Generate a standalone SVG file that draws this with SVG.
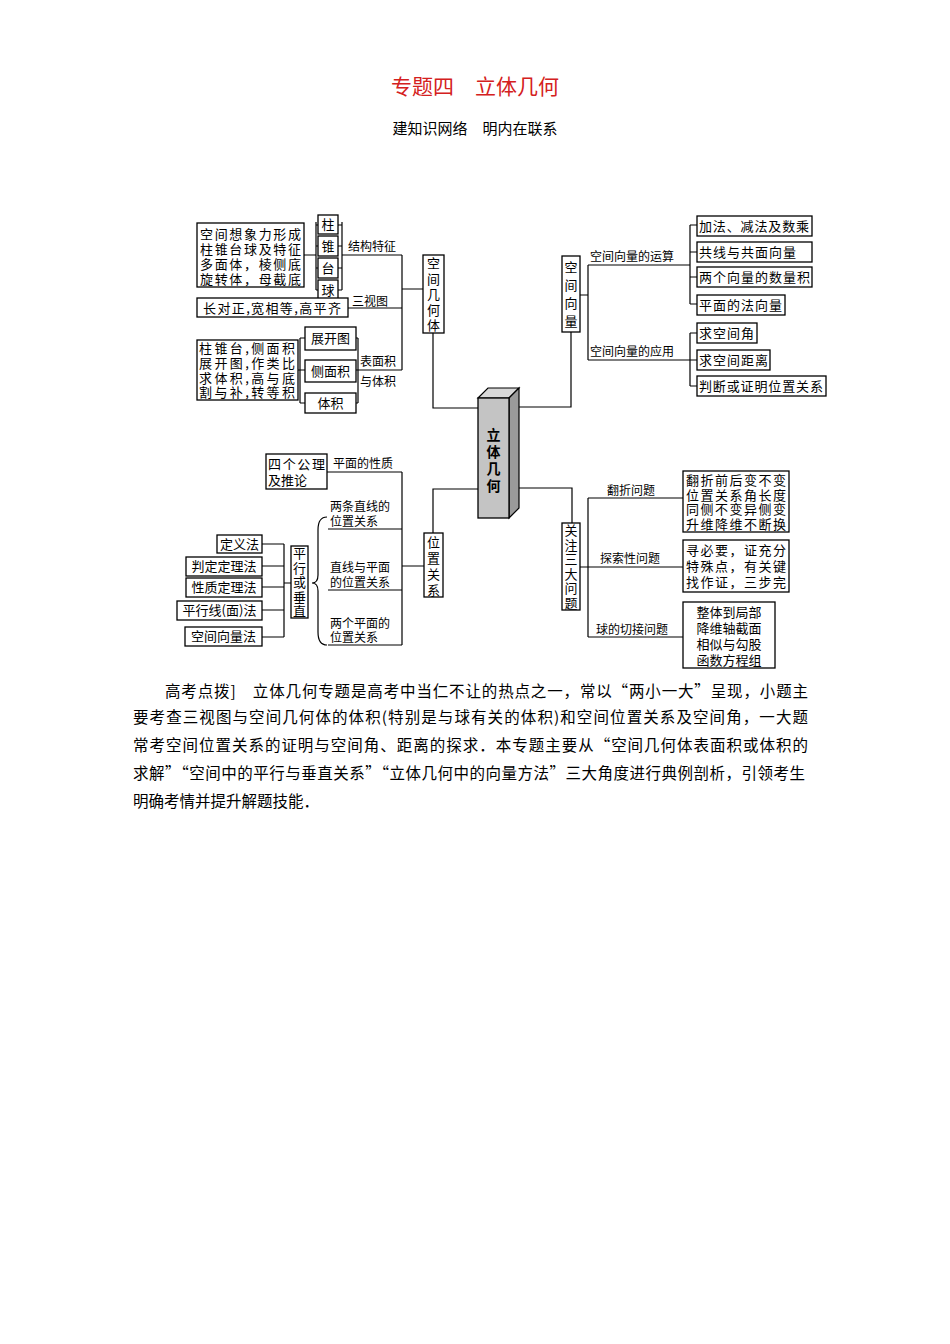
<svg xmlns="http://www.w3.org/2000/svg" width="950" height="1344" viewBox="0 0 950 1344">
<style>
text{font-family:"Noto Sans CJK SC","Noto Sans",sans-serif;fill:#000}
.t{font-size:13px}
.s{font-size:12px}
.m{text-anchor:middle}
rect{fill:#fff;stroke:#000;stroke-width:1.3}
.c path,.c line{fill:none;stroke:#000;stroke-width:1.2}
.p{font-size:15.5px}
</style>
<rect x="0" y="0" width="950" height="1344" style="stroke:none"/>
<text x="475" y="94" class="m" style="font-size:21px;fill:#d42020">专题四　立体几何</text>
<text x="475" y="134" class="m" style="font-size:15px">建知识网络　明内在联系</text>

<g class="c" id="connectors">
<path d="M304 255H316M316 222V290M316 225H318M316 246H318M316 268H318M316 290H318M338 225H342M338 246H342M338 268H342M338 290H342M342 222V290M342 255H402M402 255V370M348 308H402M358 370H402M402 289H423"/>
<path d="M298 370H300M300 338V403M300 338H305M300 370H305M300 403H305M356 338H358M356 370H358M356 403H358M358 338V403"/>
<path d="M433 333V408H478"/>
<path d="M518 407H571V332"/>
<path d="M580 295H588M588 265V360M588 265H690M588 360H690M690 225V304M690 225H697M690 252H697M690 277H697M690 304H697M690 333V386M690 333H697M690 360H697M690 386H697"/>
<path d="M518 488H572V523"/>
<path d="M580 567H588M588 498V637M588 498H683M588 567H683M588 637H683"/>
<path d="M478 489H433V533M424 566H402M402 472V645M327 472H402M328 529H402M328 590H402M328 645H402"/>
<path d="M327 517Q318 517 318 530V575Q318 583 312 583Q318 583 318 591V632Q318 645 327 645"/>
<path d="M291 583H284M284 544V637M262 544H284M262 566H284M262 587H284M262 610H284M262 637H284"/>
</g>

<g id="n-kjjht"><rect x="423" y="255" width="21" height="78"/>
<text class="t m" x="433.5" y="268">空</text><text class="t m" x="433.5" y="284">间</text><text class="t m" x="433.5" y="299">几</text><text class="t m" x="433.5" y="315">何</text><text class="t m" x="433.5" y="330">体</text></g>
<g id="n-a"><rect x="197" y="223" width="107" height="64"/>
<text class="t" x="200" y="239" textLength="101">空间想象力形成</text><text class="t" x="200" y="254" textLength="101">柱锥台球及特征</text><text class="t" x="200" y="269" textLength="101">多面体，棱侧底</text><text class="t" x="200" y="284" textLength="101">旋转体，母截底</text></g>
<g id="n-zhu"><rect x="318" y="215" width="20" height="19"/><text class="t m" x="328" y="229">柱</text></g>
<g id="n-zhui"><rect x="318" y="236" width="20" height="20"/><text class="t m" x="328" y="251">锥</text></g>
<g id="n-tai"><rect x="318" y="258" width="20" height="20"/><text class="t m" x="328" y="273">台</text></g>
<g id="n-qiu"><rect x="318" y="280" width="20" height="20"/><text class="t m" x="328" y="295">球</text></g>
<text class="s" x="348" y="251">结构特征</text>
<g id="n-szz"><rect x="197" y="298" width="151" height="19"/><text class="t" x="203" y="313" textLength="138">长对正,宽相等,高平齐</text></g>
<text class="s" x="352" y="306">三视图</text>
<g id="n-b"><rect x="197" y="340" width="101" height="60"/>
<text class="t" x="199" y="353" textLength="96">柱锥台,侧面积</text><text class="t" x="199" y="368" textLength="96">展开图,作类比</text><text class="t" x="199" y="383" textLength="96">求体积,高与底</text><text class="t" x="199" y="397" textLength="96">割与补,转等积</text></g>
<g id="n-zkt"><rect x="305" y="327" width="51" height="23"/><text class="t m" x="330.5" y="343">展开图</text></g>
<g id="n-cmj"><rect x="305" y="360" width="51" height="22"/><text class="t m" x="330.5" y="376">侧面积</text></g>
<g id="n-tj"><rect x="305" y="393" width="51" height="20"/><text class="t m" x="330.5" y="408">体积</text></g>
<text class="s" x="360" y="366">表面积</text><text class="s" x="360" y="386">与体积</text>

<g id="n-kjxl"><rect x="562" y="256" width="18" height="76"/>
<text class="t m" x="571" y="272">空</text><text class="t m" x="571" y="290">间</text><text class="t m" x="571" y="308">向</text><text class="t m" x="571" y="326">量</text></g>
<text class="s" x="590" y="261">空间向量的运算</text>
<text class="s" x="590" y="356">空间向量的应用</text>
<g id="n-v1"><rect x="697" y="216" width="115" height="20"/><text class="t" x="699" y="231" textLength="110">加法、减法及数乘</text></g>
<g id="n-v2"><rect x="697" y="242" width="115" height="20"/><text class="t" x="699" y="257" textLength="97">共线与共面向量</text></g>
<g id="n-v3"><rect x="697" y="267" width="115" height="20"/><text class="t" x="699" y="282" textLength="111">两个向量的数量积</text></g>
<g id="n-v4"><rect x="697" y="295" width="88" height="20"/><text class="t" x="699" y="310" textLength="83">平面的法向量</text></g>
<g id="n-v5"><rect x="697" y="323" width="60" height="20"/><text class="t" x="699" y="338" textLength="55">求空间角</text></g>
<g id="n-v6"><rect x="697" y="350" width="73" height="20"/><text class="t" x="699" y="365" textLength="69">求空间距离</text></g>
<g id="n-v7"><rect x="697" y="376" width="129" height="20"/><text class="t" x="699" y="391" textLength="124">判断或证明位置关系</text></g>

<g id="n-center">
<path d="M478 398L488 388H519L509 398Z" style="fill:#d8d8d8;stroke:#000;stroke-width:1.2"/>
<path d="M509 398L519 388V508L509 518Z" style="fill:#9a9a9a;stroke:#000;stroke-width:1.2"/>
<rect x="478" y="398" width="31" height="120" style="fill:#c4c4c4"/>
<text class="m" style="font-size:14px;font-weight:bold" x="493.5" y="440">立</text>
<text class="m" style="font-size:14px;font-weight:bold" x="493.5" y="457">体</text>
<text class="m" style="font-size:14px;font-weight:bold" x="493.5" y="474">几</text>
<text class="m" style="font-size:14px;font-weight:bold" x="493.5" y="491">何</text></g>

<g id="n-gz"><rect x="562" y="523" width="18" height="87"/>
<text class="t m" x="571" y="535">关</text><text class="t m" x="571" y="550">注</text><text class="t m" x="571" y="564">三</text><text class="t m" x="571" y="579">大</text><text class="t m" x="571" y="593">问</text><text class="t m" x="571" y="608">题</text></g>
<text class="s" x="607" y="495">翻折问题</text>
<text class="s" x="600" y="563">探索性问题</text>
<text class="s" x="596" y="634">球的切接问题</text>
<g id="n-fz"><rect x="683" y="471" width="106" height="61"/>
<text class="t" x="686" y="485" textLength="100">翻折前后变不变</text><text class="t" x="686" y="500" textLength="100">位置关系角长度</text><text class="t" x="686" y="514" textLength="100">同侧不变异侧变</text><text class="t" x="686" y="529" textLength="100">升维降维不断换</text></g>
<g id="n-ts"><rect x="683" y="540" width="106" height="52"/>
<text class="t" x="686" y="555" textLength="100">寻必要，证充分</text><text class="t" x="686" y="571" textLength="100">特殊点，有关键</text><text class="t" x="686" y="587" textLength="100">找作证，三步完</text></g>
<g id="n-qj"><rect x="683" y="602" width="92" height="66"/>
<text class="t m" x="729" y="617">整体到局部</text><text class="t m" x="729" y="633">降维轴截面</text><text class="t m" x="729" y="649">相似与勾股</text><text class="t m" x="729" y="665">函数方程组</text></g>

<g id="n-wzgx"><rect x="424" y="533" width="19" height="64"/>
<text class="t m" x="433.5" y="547">位</text><text class="t m" x="433.5" y="563">置</text><text class="t m" x="433.5" y="579">关</text><text class="t m" x="433.5" y="595">系</text></g>
<g id="n-sgg"><rect x="266" y="454" width="61" height="35"/><text class="t" x="268" y="469" textLength="57">四个公理</text><text class="t" x="268" y="485">及推论</text></g>
<text class="s" x="333" y="468">平面的性质</text>
<text class="s" x="330" y="511">两条直线的</text><text class="s" x="330" y="526">位置关系</text>
<text class="s" x="330" y="572">直线与平面</text><text class="s" x="330" y="587">的位置关系</text>
<text class="s" x="330" y="628">两个平面的</text><text class="s" x="330" y="642">位置关系</text>
<g id="n-pxcz"><rect x="291" y="546" width="17" height="72"/>
<text class="t m" x="299.5" y="558">平</text><text class="t m" x="299.5" y="573">行</text><text class="t m" x="299.5" y="587">或</text><text class="t m" x="299.5" y="602">垂</text><text class="t m" x="299.5" y="616">直</text></g>
<g id="n-d1"><rect x="217" y="535" width="45" height="18"/><text class="t m" x="239.5" y="549">定义法</text></g>
<g id="n-d2"><rect x="186" y="557" width="76" height="19"/><text class="t m" x="224" y="571">判定定理法</text></g>
<g id="n-d3"><rect x="186" y="578" width="76" height="19"/><text class="t m" x="224" y="592">性质定理法</text></g>
<g id="n-d4"><rect x="177" y="601" width="85" height="19"/><text class="t m" x="219.5" y="615">平行线(面)法</text></g>
<g id="n-d5"><rect x="185" y="627" width="77" height="19"/><text class="t m" x="223.5" y="641">空间向量法</text></g>

<g id="para">
<text class="p" x="165" y="697" textLength="643">高考点拨]　立体几何专题是高考中当仁不让的热点之一，常以“两小一大”呈现，小题主</text>
<text class="p" x="133" y="723" textLength="675">要考查三视图与空间几何体的体积(特别是与球有关的体积)和空间位置关系及空间角，一大题</text>
<text class="p" x="133" y="751" textLength="675">常考空间位置关系的证明与空间角、距离的探求．本专题主要从“空间几何体表面积或体积的</text>
<text class="p" x="133" y="779" textLength="672">求解”“空间中的平行与垂直关系”“立体几何中的向量方法”三大角度进行典例剖析，引领考生</text>
<text class="p" x="133" y="807">明确考情并提升解题技能．</text>
</g>
</svg>
